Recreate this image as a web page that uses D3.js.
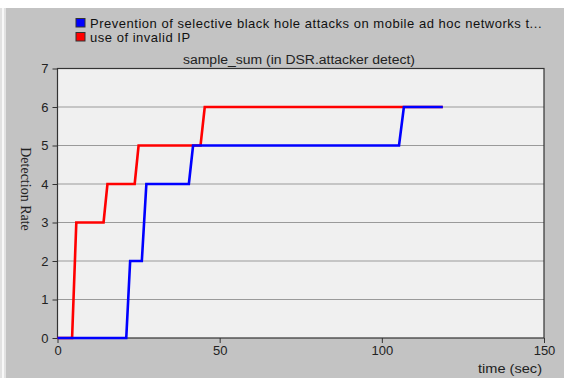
<!DOCTYPE html>
<html>
<head>
<meta charset="utf-8">
<script src="https://cdn.jsdelivr.net/npm/d3@7"></script>
<style>
  body { margin: 0; background: #fff; }
  svg text { font-family: Arial, "Liberation Sans", sans-serif; }
</style>
</head>
<body>
<svg width="564" height="378"></svg>
<script>
// Series data: [time (sec), detection count]
var seriesNames = ["Prevention of selective black hole attacks on mobile ad hoc networks t...", "use of invalid IP"];
var seriesColors = ["#0000ff", "#ff0000"];

var invalidIp = [
    [0, 0], [4.5, 0], [5.8, 3], [14.2, 3], [15.4, 4], [23.8, 4], [25, 5],
    [44.1, 5], [45.4, 6], [118.8, 6]
];
var blackHole = [
    [0, 0], [21.2, 0], [22.4, 2], [26, 2], [27.4, 4], [40.5, 4], [41.8, 5],
    [105.3, 5], [106.8, 6], [118.8, 6]
];

var xTicks = [0, 50, 100, 150];
var yTicks = [0, 1, 2, 3, 4, 5, 6, 7];

var svg = d3.select("svg");

// outer panel
svg.append("rect").attr("x", 0).attr("y", 8).attr("width", 564).attr("height", 370).style("fill", "#e2e2e2");
svg.append("rect").attr("x", 2).attr("y", 8).attr("width", 2).attr("height", 370).style("fill", "#f8f8f8");
svg.append("rect").attr("x", 6).attr("y", 8).attr("width", 558).attr("height", 370).style("fill", "#c3c3c3");

var x = d3.scaleLinear().domain([0, 150]).range([57.5, 544]);
var y = d3.scaleLinear().domain([0, 7]).range([338, 68.5]);

// plot background
svg.append("rect")
    .attr("x", x(0)).attr("y", y(7))
    .attr("width", x(150) - x(0)).attr("height", y(0) - y(7))
    .style("fill", "#f0f0f0");

// grid
svg.selectAll(".grid")
    .data(yTicks.slice(1, -1))
    .enter()
    .append("line")
    .attr("class", "grid")
    .attr("x1", x(0)).attr("x2", x(150))
    .attr("y1", function(d) { return y(d); })
    .attr("y2", function(d) { return y(d); })
    .style("stroke", "#9a9a9a")
    .style("stroke-width", 1.2);

// frame
svg.append("rect")
    .attr("x", x(0)).attr("y", y(7))
    .attr("width", x(150) - x(0)).attr("height", y(0) - y(7))
    .style("fill", "none").style("stroke", "#333").style("stroke-width", 1.2);

// axes
var xAxis = d3.axisBottom(x).tickValues(xTicks).tickSize(5).tickPadding(3).tickFormat(d3.format("d"));
svg.append("g")
    .attr("transform", "translate(0," + y(0) + ")")
    .call(xAxis)
    .call(function(g) { g.select(".domain").remove(); })
    .call(function(g) {
        g.selectAll("line").style("stroke", "#333");
        g.selectAll("text").style("font-size", "13px").style("fill", "#222");
    });

var yAxis = d3.axisLeft(y).tickValues(yTicks).tickSize(5).tickPadding(4).tickFormat(d3.format("d"));
svg.append("g")
    .attr("transform", "translate(" + x(0) + ",0)")
    .call(yAxis)
    .call(function(g) { g.select(".domain").remove(); })
    .call(function(g) {
        g.selectAll("line").style("stroke", "#333");
        g.selectAll("text").style("font-size", "13px").style("fill", "#222");
    });

// lines
var line = d3.line()
    .x(function(d) { return x(d[0]); })
    .y(function(d) { return y(d[1]); });

svg.append("path")
    .datum(invalidIp)
    .attr("d", line)
    .style("fill", "none")
    .style("stroke", seriesColors[1])
    .style("stroke-width", 2.6);

svg.append("path")
    .datum(blackHole)
    .attr("d", line)
    .style("fill", "none")
    .style("stroke", seriesColors[0])
    .style("stroke-width", 2.6);

// title
svg.append("text")
    .attr("x", 183)
    .attr("y", 64)
    .attr("textLength", 232)
    .attr("lengthAdjust", "spacingAndGlyphs")
    .style("font-size", "12.5px")
    .style("fill", "#222")
    .text("sample_sum (in DSR.attacker detect)");

// y label
svg.append("text")
    .attr("transform", "translate(21,189) rotate(90)")
    .attr("text-anchor", "middle")
    .style("font-family", "'Liberation Serif', 'DejaVu Serif', serif")
    .style("font-size", "14px")
    .style("fill", "#222")
    .text("Detection Rate");

// x label
svg.append("text")
    .attr("x", 478)
    .attr("y", 373)
    .attr("textLength", 64)
    .attr("lengthAdjust", "spacingAndGlyphs")
    .style("font-size", "13px")
    .style("fill", "#222")
    .text("time (sec)");

// legend
var legend = svg.selectAll(".legend")
    .data(seriesNames)
    .enter()
    .append("g")
    .attr("class", "legend")
    .attr("transform", function(d, i) { return "translate(76," + (18.5 + i * 14) + ")"; });

legend.append("rect")
    .attr("width", 9).attr("height", 8.5)
    .style("fill", function(d, i) { return seriesColors[i]; })
    .style("stroke", "#333").style("stroke-width", 1);

legend.append("text")
    .attr("x", 14).attr("y", 9)
    .style("font-size", "13px")
    .style("letter-spacing", "0.52px")
    .style("fill", "#111")
    .text(function(d) { return d; });
</script>
</body>
</html>
